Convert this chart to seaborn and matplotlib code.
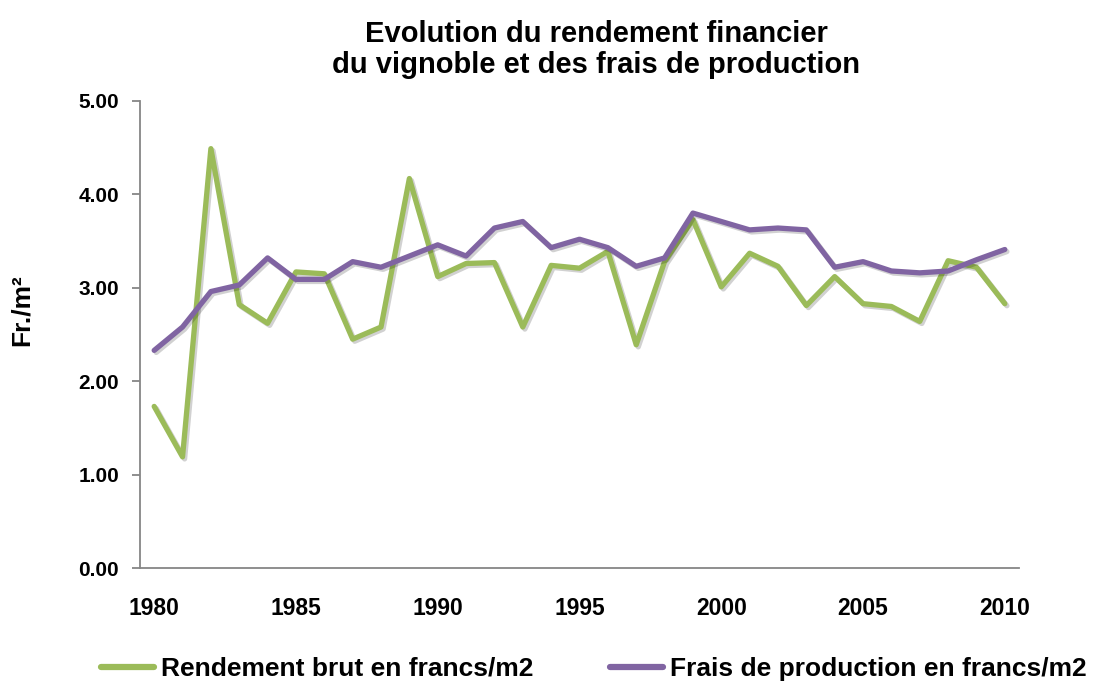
import matplotlib.pyplot as plt
import matplotlib.patheffects as pe
from matplotlib.ticker import MultipleLocator
import pandas as pd
import seaborn as sns

years = list(range(1980, 2011))
rendement = [1.73, 1.19, 4.49, 2.82, 2.62, 3.17, 3.15, 2.45, 2.58, 4.17,
             3.12, 3.26, 3.27, 2.58, 3.24, 3.21, 3.39, 2.39, 3.28, 3.73,
             3.01, 3.37, 3.23, 2.81, 3.12, 2.83, 2.80, 2.64, 3.29, 3.22, 2.83]
frais = [2.33, 2.58, 2.96, 3.03, 3.32, 3.09, 3.09, 3.28, 3.22, 3.34,
         3.46, 3.34, 3.64, 3.71, 3.43, 3.52, 3.43, 3.23, 3.32, 3.80,
         3.71, 3.62, 3.64, 3.62, 3.22, 3.28, 3.18, 3.16, 3.18, 3.30, 3.41]
series_names = ['Rendement brut en francs/m2', 'Frais de production en francs/m2']
colors = ['#9BBB59', '#8064A2']

df = pd.DataFrame({
    'Année': years * 2,
    'Valeur': rendement + frais,
    'Série': [series_names[0]] * len(years) + [series_names[1]] * len(years),
})

sns.set_style('white')
plt.rcParams['font.family'] = ['Liberation Sans', 'DejaVu Sans']
plt.rcParams['font.weight'] = 'bold'
plt.rcParams['text.color'] = 'black'
plt.rcParams['xtick.color'] = 'black'
plt.rcParams['ytick.color'] = 'black'
plt.rcParams['axes.labelcolor'] = 'black'

fig = plt.figure(figsize=(10.93, 6.87), dpi=100)
ax = fig.add_axes([140/1093, 1 - 568/687, (1019 - 140)/1093, (568 - 101)/687])

shadow = [pe.SimpleLineShadow(offset=(1.5, -1.5), alpha=0.18, shadow_color='black'), pe.Normal()]
sns.lineplot(data=df, x='Année', y='Valeur', hue='Série', palette=colors,
             linewidth=3.8, ax=ax, legend=False, path_effects=shadow)

ax.set_xlim(1979.5, 2010.5)
ax.set_ylim(0, 5)
ax.xaxis.set_major_locator(MultipleLocator(5))
ax.xaxis.set_minor_locator(MultipleLocator(1, offset=0.5))
ax.yaxis.set_major_locator(MultipleLocator(1))
ax.yaxis.set_major_formatter(lambda v, p: f'{v:.2f}')

for side in ['top', 'right']:
    ax.spines[side].set_visible(False)
for side in ['left', 'bottom']:
    ax.spines[side].set_color('#868686')
    ax.spines[side].set_linewidth(1.3)

ax.tick_params(axis='x', which='major', length=0, pad=21, labelsize=16.5, labelcolor='black')
ax.tick_params(axis='x', which='minor', length=6, width=1.3, color='#868686', direction='out')
ax.tick_params(axis='y', which='major', length=6, width=1.3, color='#868686', direction='out',
               left=True, pad=9, labelsize=15, labelcolor='black')
for lbl in ax.get_xticklabels() + ax.get_yticklabels():
    lbl.set_fontweight('bold')

ax.set_xlabel('')
ax.set_ylabel('Fr./m²', fontsize=19, fontweight='bold', color='black')
ax.yaxis.set_label_coords(-(140 - 34)/879, (568 - 310)/467)

fig.suptitle('Evolution du rendement financier\ndu vignoble et des frais de production',
             fontsize=21, fontweight='bold', x=596/1093, y=1 - 20/687, va='top',
             linespacing=1.15, color='black')

handles = [plt.Line2D([], [], color=c, linewidth=4.5) for c in colors]
fig.legend(handles, series_names, loc='center', bbox_to_anchor=(594/1093, 1 - 669/687),
           ncol=2, frameon=False, handlelength=2.0, handletextpad=0.27,
           columnspacing=2.9, prop={'weight': 'bold', 'size': 19})

fig.savefig('out.png', dpi=100)
